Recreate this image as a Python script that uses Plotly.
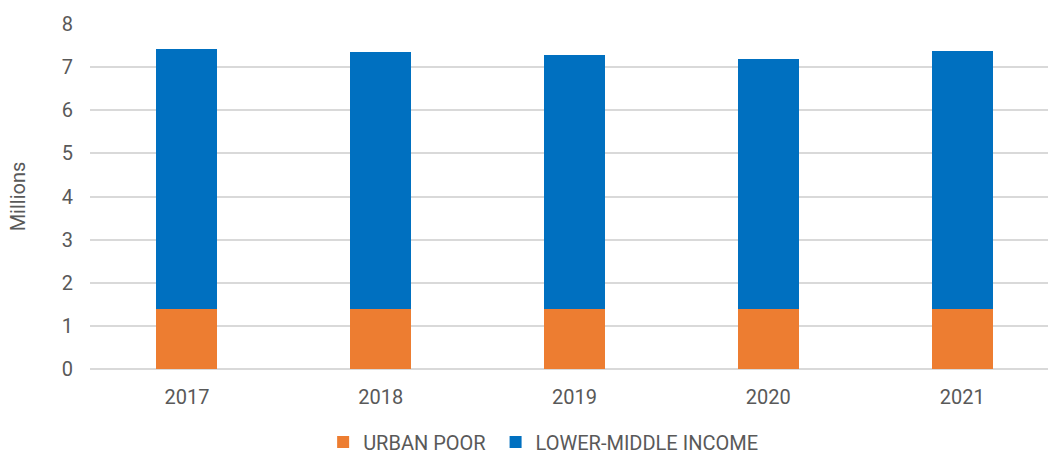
import plotly.graph_objects as go

years = ["2017", "2018", "2019", "2020", "2021"]
urban_poor = [1.40, 1.40, 1.40, 1.40, 1.40]
lower_middle = [6.02, 5.95, 5.87, 5.78, 5.97]

font_family = "Roboto"
text_color = "#595959"

fig = go.Figure()
fig.add_trace(go.Bar(
    x=years, y=urban_poor, name="URBAN POOR ",
    marker=dict(color="#ED7D31", line=dict(width=0)),
    width=0.315,
))
fig.add_trace(go.Bar(
    x=years, y=lower_middle, name="LOWER-MIDDLE INCOME",
    marker=dict(color="#0070C0", line=dict(width=0)),
    width=0.315,
))

fig.update_layout(
    barmode="stack",
    width=1048, height=455,
    margin=dict(l=90, r=0, t=23.5, b=85.7, autoexpand=False),
    paper_bgcolor="white", plot_bgcolor="white",
    font=dict(family=font_family, size=20, color=text_color),
    showlegend=True,
    legend=dict(
        orientation="h", x=0.473, xanchor="center", xref="paper",
        y=-0.155, yanchor="top",
        font=dict(size=20, color=text_color),
        traceorder="normal", itemwidth=30,
    ),
    xaxis=dict(
        type="category", range=[-0.5, 4.443],
        showgrid=False, showline=False, ticks="",
        ticklabelstandoff=14,
        tickfont=dict(size=20, color=text_color),
    ),
    yaxis=dict(
        range=[0, 8], dtick=1,
        showgrid=True, gridcolor="#d9d9d9", gridwidth=1.5,
        zeroline=True, zerolinecolor="#d9d9d9", zerolinewidth=1.5,
        showline=False, ticks="",
        ticklabelstandoff=16,
        tickfont=dict(size=20, color=text_color),
        title=dict(text="Millions", font=dict(size=20, color=text_color), standoff=30),
    ),
)

fig.write_html("out.html")
